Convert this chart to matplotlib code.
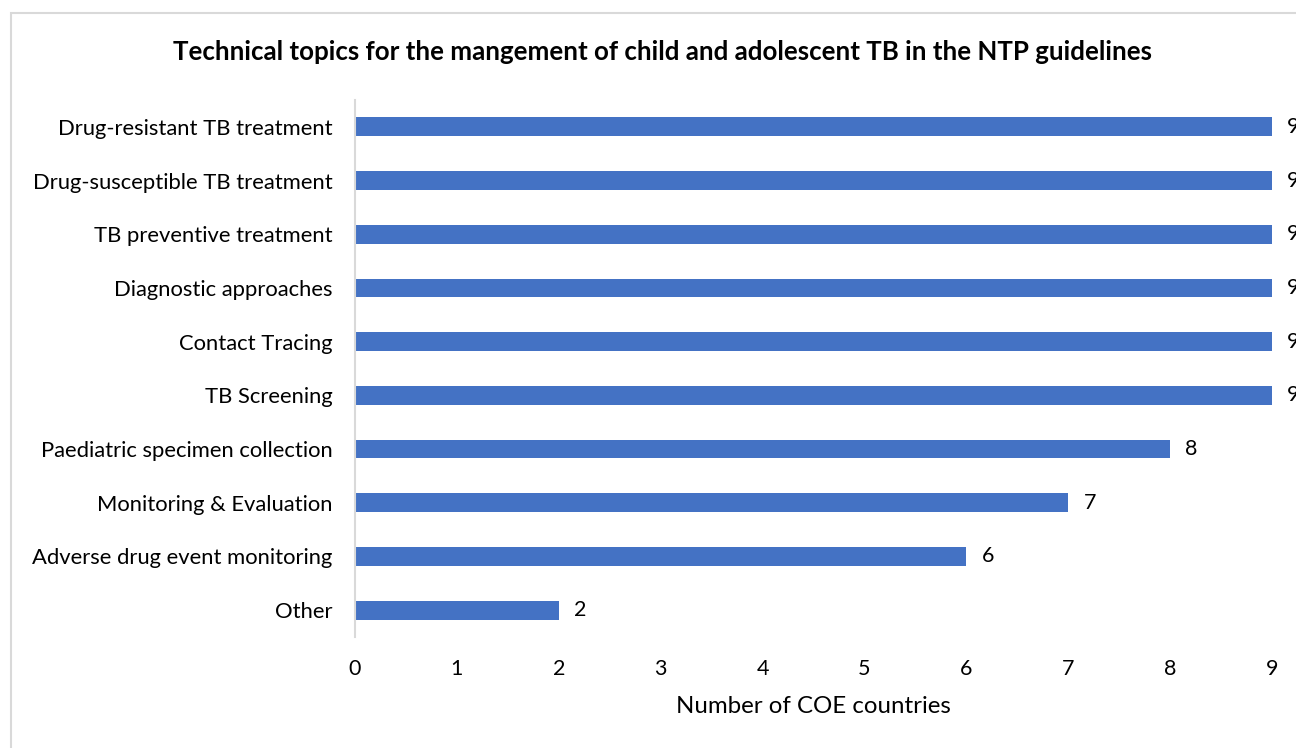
import matplotlib.pyplot as plt
from matplotlib.patches import Rectangle

topics = ['Drug-resistant TB treatment', 'Drug-susceptible TB treatment',
          'TB preventive treatment', 'Diagnostic approaches', 'Contact Tracing',
          'TB Screening', 'Paediatric specimen collection', 'Monitoring & Evaluation',
          'Adverse drug event monitoring', 'Other']
counts = [9, 9, 9, 9, 9, 9, 8, 7, 6, 2]

plt.rcParams['font.family'] = ['Lato', 'DejaVu Sans']

fig = plt.figure(figsize=(12.96, 7.48), dpi=100)
fig.patches.append(Rectangle((11/1296, -0.1), 1.2, 1 - 13/748 + 0.1,
                             transform=fig.transFigure, fill=False,
                             edgecolor='#d9d9d9', linewidth=1.5))
ax = fig.add_axes([355/1296, 1 - 637/748, 917/1296, 537/748])

y = list(range(len(topics)))
ax.barh(y, counts, height=0.35, color='#4472C4')
ax.set_ylim(len(topics) - 0.5, -0.5)
ax.set_xlim(0, 9)
ax.set_yticks(y)
ax.set_yticklabels(topics, fontsize=15.8)
ax.set_xticks(range(10))
ax.tick_params(axis='x', labelsize=15.5, length=0, pad=16)
ax.tick_params(axis='y', length=0, pad=16)
for s in ['top', 'right', 'bottom']:
    ax.spines[s].set_visible(False)
ax.spines['left'].set_color('#d9d9d9')
ax.spines['left'].set_linewidth(1.5)

for yi, c in zip(y, counts):
    ax.annotate(str(c), (c, yi), xytext=(11, 0), textcoords='offset points',
                va='center', ha='left', fontsize=15.5, annotation_clip=False)

ax.set_xlabel('Number of COE countries', fontsize=17.3, labelpad=12)
fig.text(662/1296, 1 - 52/748, 'Technical topics for the mangement of child and adolescent TB in the NTP guidelines',
         ha='center', va='center', fontsize=18.6, fontweight='bold')

fig.savefig('out.png', dpi=100)
